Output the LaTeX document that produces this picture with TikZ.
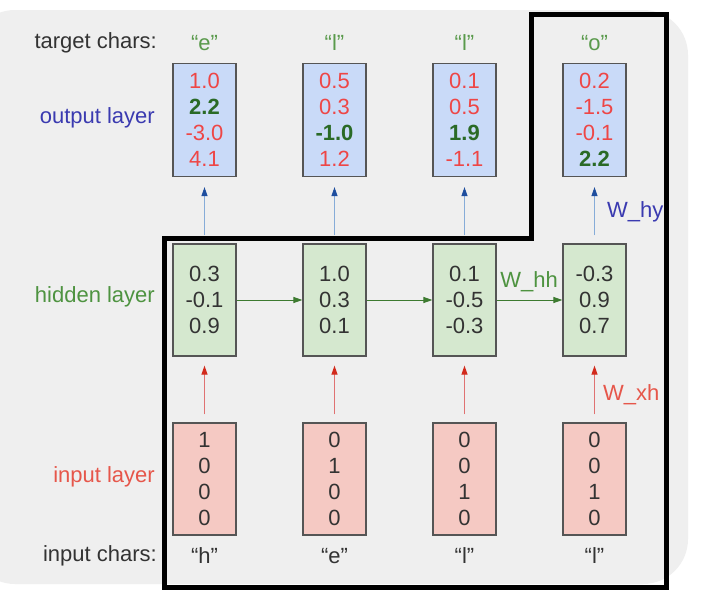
\documentclass[tikz,border=0pt]{standalone}
\usepackage{fontspec}
\setmainfont{Liberation Sans}
\usetikzlibrary{arrows.meta}
\definecolor{bggray}{HTML}{EFEFEF}
\definecolor{boxborder}{HTML}{555555}
\definecolor{outfill}{HTML}{C9DAF8}
\definecolor{hidfill}{HTML}{D5E8CF}
\definecolor{infill}{HTML}{F5C9C3}
\definecolor{numred}{HTML}{EE4646}
\definecolor{numgreen}{HTML}{2A6A26}
\definecolor{numdark}{HTML}{333333}
\definecolor{labdark}{HTML}{333333}
\definecolor{labblue}{HTML}{3A3AB0}
\definecolor{labgreen}{HTML}{4E9340}
\definecolor{labred}{HTML}{E6564A}
\definecolor{quotegreen}{HTML}{5A9A4C}
\definecolor{arrblueline}{HTML}{86ACD8}
\definecolor{arrbluehead}{HTML}{1F4E9E}
\definecolor{arrredline}{HTML}{E07272}
\definecolor{arrredhead}{HTML}{D22A1C}
\definecolor{arrgreen}{HTML}{3D7A30}
\begin{document}
\begin{tikzpicture}[x=1pt,y=-1pt,
  txt/.style={font=\fontsize{22}{26}\selectfont, inner sep=0pt},
  layerbox/.style={draw=boxborder, line width=1.2pt, minimum width=63pt,
    inner sep=0pt, align=center, font=\fontsize{22}{26}\selectfont},
  outbox/.style={layerbox, fill=outfill, minimum height=113pt},
  hidbox/.style={layerbox, fill=hidfill, minimum height=112pt, text=numdark},
  inbox/.style={layerbox, fill=infill, minimum height=112pt, text=numdark},
  bluearr/.style={draw=arrblueline, line width=1pt,
    -{Triangle[length=9pt,width=6pt,color=arrbluehead]}, shorten <=8pt, shorten >=10pt},
  redarr/.style={draw=arrredline, line width=1pt,
    -{Triangle[length=9pt,width=6pt,color=arrredhead]}, shorten <=8pt, shorten >=9pt},
  greenarr/.style={draw=arrgreen, line width=1pt,
    -{Triangle[length=9pt,width=6pt]}},
  frame/.style={draw=black, line width=5pt, line join=miter}
]
\useasboundingbox (0,0) rectangle (712,613);
\fill[white] (0,0) rectangle (712,613);
\fill[bggray, rounded corners=45pt] (-30,10) rectangle (688,584);

% row labels
\node[txt, anchor=east, text=labdark] (tc) at (157,43) {target chars:};
\node[txt, anchor=east, text=labblue] (ol) at (155,118) {output layer};
\node[txt, anchor=east, text=labgreen] (hl) at (155,297) {hidden layer};
\node[txt, anchor=east, text=labred] (il) at (155,477) {input layer};
\node[txt, anchor=east, text=labdark] (ic) at (157,556) {input chars:};

% target chars
\node[txt, text=quotegreen] (t1) at (204.5,43) {“e”};
\node[txt, text=quotegreen] (t2) at (334.5,43) {“l”};
\node[txt, text=quotegreen] (t3) at (464.5,43) {“l”};
\node[txt, text=quotegreen] (t4) at (594.5,43) {“o”};

% output boxes
\node[outbox] (o1) at (204.5,120) {\textcolor{numred}{1.0}\\\textcolor{numgreen}{\textbf{2.2}}\\\textcolor{numred}{-3.0}\\\textcolor{numred}{4.1}};
\node[outbox] (o2) at (334.5,120) {\textcolor{numred}{0.5}\\\textcolor{numred}{0.3}\\\textcolor{numgreen}{\textbf{-1.0}}\\\textcolor{numred}{1.2}};
\node[outbox] (o3) at (464.5,120) {\textcolor{numred}{0.1}\\\textcolor{numred}{0.5}\\\textcolor{numgreen}{\textbf{1.9}}\\\textcolor{numred}{-1.1}};
\node[outbox] (o4) at (594.5,120) {\textcolor{numred}{0.2}\\\textcolor{numred}{-1.5}\\\textcolor{numred}{-0.1}\\\textcolor{numgreen}{\textbf{2.2}}};

% hidden boxes
\node[hidbox] (h1) at (204.5,300) {0.3\\-0.1\\0.9};
\node[hidbox] (h2) at (334.5,300) {1.0\\0.3\\0.1};
\node[hidbox] (h3) at (464.5,300) {0.1\\-0.5\\-0.3};
\node[hidbox] (h4) at (594.5,300) {-0.3\\0.9\\0.7};

% input boxes
\node[inbox] (i1) at (204.5,479) {1\\0\\0\\0};
\node[inbox] (i2) at (334.5,479) {0\\1\\0\\0};
\node[inbox] (i3) at (464.5,479) {0\\0\\1\\0};
\node[inbox] (i4) at (594.5,479) {0\\0\\1\\0};

% input chars
\node[txt, text=labdark] (c1) at (204.5,556) {“h”};
\node[txt, text=labdark] (c2) at (334.5,556) {“e”};
\node[txt, text=labdark] (c3) at (464.5,556) {“l”};
\node[txt, text=labdark] (c4) at (594.5,556) {“l”};

% arrows
\foreach \k in {1,2,3,4} {
  \draw[bluearr] (h\k) -- (o\k);
  \draw[redarr] (i\k) -- (h\k);
}
\draw[greenarr] (h1) -- (h2);
\draw[greenarr] (h2) -- (h3);
\draw[greenarr] (h3) -- (h4);

% weight labels
\node[txt, text=labgreen, anchor=center] (whh) at (529,282) {W\_hh};
\node[txt, text=labblue, anchor=west] (why) at (607,212) {W\_hy};
\node[txt, text=labred, anchor=west] (wxh) at (603,395) {W\_xh};

% thick frame
\draw[frame] (164,238) -- (531,238) -- (531,14) -- (666,14) -- (666,587) -- (164,587) -- cycle;
\end{tikzpicture}
\end{document}
